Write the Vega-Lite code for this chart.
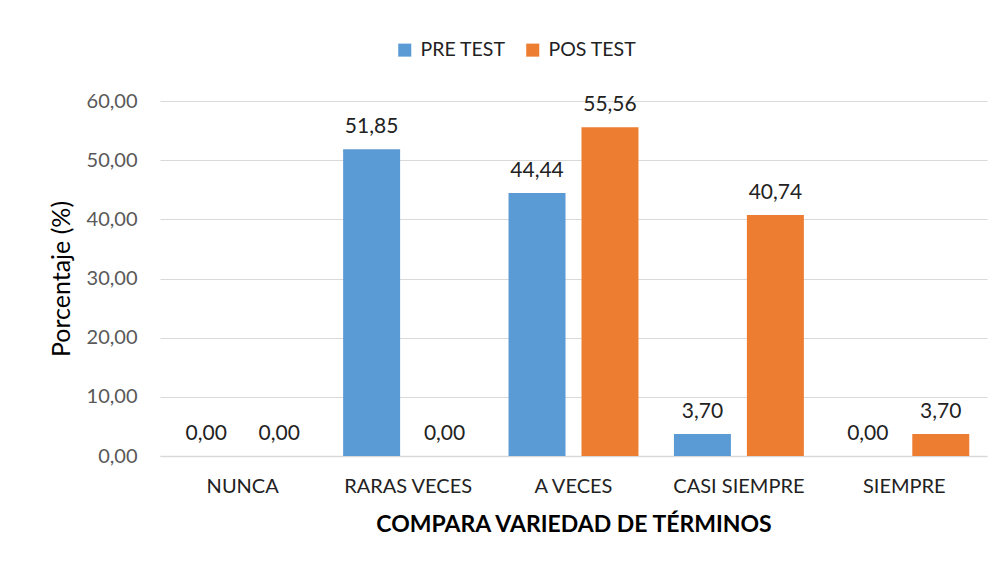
{
  "$schema": "https://vega.github.io/schema/vega-lite/v6.json",
  "width": 827,
  "height": 355,
  "autosize": {"type": "none"},
  "padding": {"left": 160, "top": 101, "right": 14, "bottom": 113},
  "background": "white",
  "config": {
    "locale": {"number": {"decimal": ",", "thousands": ".", "grouping": [3], "currency": ["", " €"]}},
    "font": "Lato",
    "view": {"stroke": null},
    "axis": {"gridColor": "#D9D9D9", "domainColor": "#D9D9D9", "ticks": false}
  },
  "data": {
    "values": [
      {"categoria": "NUNCA", "serie": "PRE TEST", "valor": 0.00},
      {"categoria": "NUNCA", "serie": "POS TEST", "valor": 0.00},
      {"categoria": "RARAS VECES", "serie": "PRE TEST", "valor": 51.85},
      {"categoria": "RARAS VECES", "serie": "POS TEST", "valor": 0.00},
      {"categoria": "A VECES", "serie": "PRE TEST", "valor": 44.44},
      {"categoria": "A VECES", "serie": "POS TEST", "valor": 55.56},
      {"categoria": "CASI SIEMPRE", "serie": "PRE TEST", "valor": 3.70},
      {"categoria": "CASI SIEMPRE", "serie": "POS TEST", "valor": 40.74},
      {"categoria": "SIEMPRE", "serie": "PRE TEST", "valor": 0.00},
      {"categoria": "SIEMPRE", "serie": "POS TEST", "valor": 3.70}
    ]
  },
  "encoding": {
    "x": {
      "field": "categoria",
      "type": "nominal",
      "sort": ["NUNCA", "RARAS VECES", "A VECES", "CASI SIEMPRE", "SIEMPRE"],
      "scale": {"paddingInner": 0, "paddingOuter": 0},
      "axis": {
        "title": "COMPARA VARIEDAD DE TÉRMINOS",
        "titleFont": "Lato",
        "titleFontSize": 23,
        "titleFontWeight": "bold",
        "titleColor": "#000000",
        "titlePadding": 17,
        "labelAngle": 0,
        "labelFontSize": 20,
        "labelColor": "#222222",
        "labelPadding": 20,
        "domainColor": "#D9D9D9",
        "domainWidth": 1.5,
        "grid": false
      }
    },
    "xOffset": {
      "field": "serie",
      "sort": ["PRE TEST", "POS TEST"],
      "scale": {"paddingInner": 0.219, "paddingOuter": 0.243}
    },
    "y": {
      "field": "valor",
      "type": "quantitative",
      "scale": {"domain": [0, 60]},
      "axis": {
        "title": "Porcentaje (%)",
        "titleFontSize": 25,
        "titleFontWeight": "normal",
        "titleColor": "#000000",
        "titlePadding": 12,
        "values": [0, 10, 20, 30, 40, 50, 60],
        "format": ".2f",
        "labelFontSize": 20,
        "labelColor": "#595959",
        "labelPadding": 23,
        "domain": false,
        "grid": true,
        "gridColor": "#D9D9D9",
        "gridWidth": 1.2
      }
    }
  },
  "layer": [
    {
      "mark": {"type": "bar"},
      "encoding": {
        "color": {
          "field": "serie",
          "type": "nominal",
          "scale": {"domain": ["PRE TEST", "POS TEST"], "range": ["#5B9BD5", "#ED7D31"]},
          "legend": {
            "title": null,
            "orient": "none",
            "direction": "horizontal",
            "legendX": 235,
            "legendY": -61,
            "symbolType": "square",
            "symbolSize": 170,
            "symbolStrokeWidth": 0,
            "labelFontSize": 19.5,
            "labelColor": "#222222",
            "labelOffset": 6,
            "columnPadding": 17,
            "padding": 0
          }
        }
      }
    },
    {
      "mark": {"type": "text", "dy": -16, "baseline": "alphabetic", "fontSize": 21, "color": "#222222"},
      "encoding": {
        "text": {"field": "valor", "type": "quantitative", "format": ".2f"}
      }
    }
  ]
}
